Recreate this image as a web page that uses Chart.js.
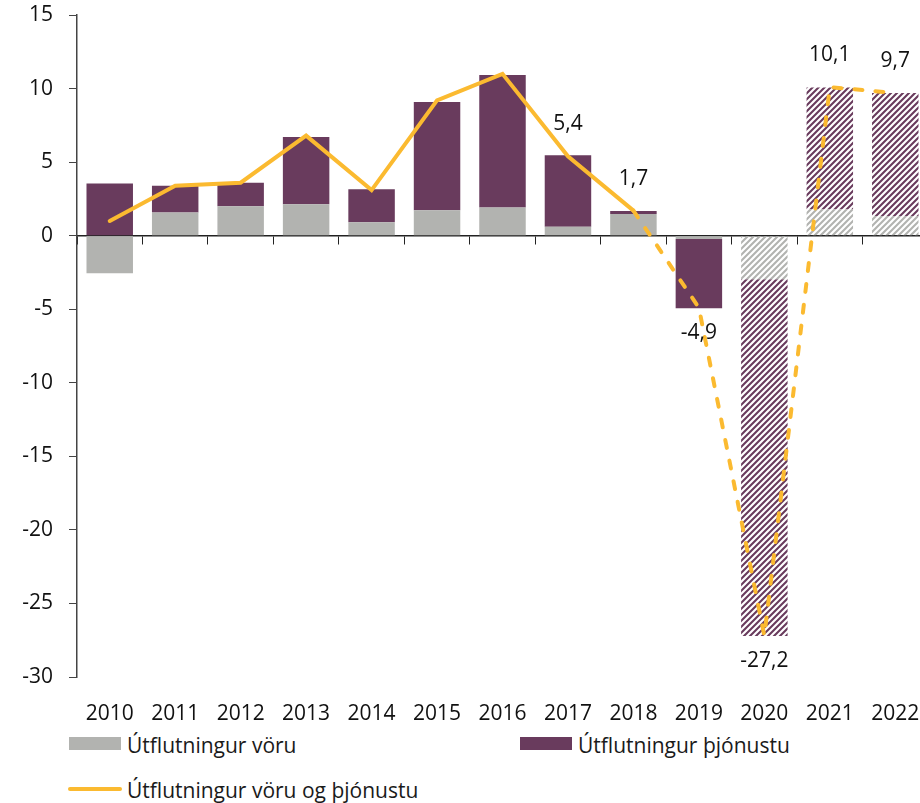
<!DOCTYPE html>
<html>
<head>
<meta charset="utf-8">
<script src="https://cdn.jsdelivr.net/npm/chart.js@4.4.1/dist/chart.umd.min.js"></script>
<style>
  html, body { margin: 0; padding: 0; background: #fff; width: 920px; height: 803px; overflow: hidden; }
  #wrap { position: absolute; left: 0; top: 0; width: 928px; height: 730px; }
  .lg { position: absolute; font-family: 'Open Sans', sans-serif; font-size: 21px; line-height: 24px; color: #1a1a1a; white-space: nowrap; }
  .sw { position: absolute; }
</style>
</head>
<body>
<div id="wrap"><canvas id="chart" width="928" height="730"></canvas></div>

<div class="sw" style="left:69px; top:737px; width:52px; height:13px; background:#B2B3B0;"></div>
<div class="lg" style="left:127px; top:733px;">Útflutningur vöru</div>
<div class="sw" style="left:520px; top:737px; width:52px; height:13px; background:#693B5D;"></div>
<div class="lg" style="left:578px; top:733px;">Útflutningur þjónustu</div>
<div class="sw" style="left:68px; top:787px; width:54px; height:4px; border-radius:2px; background:#FBBA30;"></div>
<div class="lg" style="left:127px; top:778px;">Útflutningur vöru og þjónustu</div>

<script>
// ── Data ───────────────────────────────────────
const years    = ['2010', '2011', '2012', '2013', '2014', '2015', '2016', '2017', '2018', '2019', '2020', '2021', '2022'];
const goods    = [-2.55, 1.58, 2.0, 2.14, 0.92, 1.73, 1.92, 0.6, 1.48, -0.22, -2.96, 1.8, 1.33];
const services = [3.55, 1.81, 1.59, 4.56, 2.24, 7.35, 9.0, 4.86, 0.19, -4.71, -24.26, 8.28, 8.37];
const total    = [1.0, 3.4, 3.6, 6.8, 3.1, 9.2, 11.0, 5.4, 1.7, -4.9, -27.2, 10.1, 9.7];

const FORECAST_FROM = 10;  // hatched bars from 2020
const DASH_FROM     = 8;   // dashed line from 2018
const LABEL_FROM    = 7;   // value labels from 2017

const GREY   = '#B2B3B0';
const PURPLE = '#693B5D';
const YELLOW = '#FBBA30';
const FONT   = "'Open Sans', sans-serif";

const ctx = document.getElementById('chart').getContext('2d');

function hatch(color) {
  const c = document.createElement('canvas');
  c.width = 6; c.height = 6;
  const g = c.getContext('2d');
  g.strokeStyle = color;
  g.lineWidth = 2.1;
  g.beginPath();
  g.moveTo(-1, 7); g.lineTo(7, -1);
  g.moveTo(-1, 1); g.lineTo(1, -1);
  g.moveTo(5, 7);  g.lineTo(7, 5);
  g.stroke();
  return ctx.createPattern(c, 'repeat');
}

const greyFill   = years.map((_, i) => i >= FORECAST_FROM ? hatch(GREY) : GREY);
const purpleFill = years.map((_, i) => i >= FORECAST_FROM ? hatch(PURPLE) : PURPLE);

// value labels next to the line points
const valueLabels = {
  id: 'valueLabels',
  afterDatasetsDraw(chart) {
    const meta = chart.getDatasetMeta(2);
    const c = chart.ctx;
    c.save();
    c.font = '21px ' + FONT;
    c.fillStyle = '#111';
    c.textAlign = 'center';
    c.textBaseline = 'middle';
    meta.data.forEach((pt, i) => {
      if (i < LABEL_FROM) return;
      const v = total[i];
      const txt = v.toFixed(1).replace('.', ',');
      c.fillText(txt, pt.x, v >= 0 ? pt.y - 32 : pt.y + 25);
    });
    c.restore();
  },
};

new Chart(ctx, {
  data: {
    labels: years,
    datasets: [
      { type: 'bar', label: 'Útflutningur vöru', data: goods, backgroundColor: greyFill, stack: 's', order: 1 },
      { type: 'bar', label: 'Útflutningur þjónustu', data: services, backgroundColor: purpleFill, stack: 's', order: 1 },
      {
        type: 'line',
        label: 'Útflutningur vöru og þjónustu',
        data: total,
        borderColor: YELLOW,
        borderWidth: 4,
        borderCapStyle: 'round',
        borderJoinStyle: 'miter',
        pointRadius: 0,
        tension: 0,
        order: 0,
        segment: { borderDash: s => s.p0DataIndex >= DASH_FROM ? [8, 13] : undefined },
      },
    ],
  },
  options: {
    responsive: false,
    animation: false,
    layout: { padding: { top: 15, right: 0, bottom: 0, left: 0 } },
    datasets: { bar: { barPercentage: 0.71, categoryPercentage: 1.0 } },
    plugins: { legend: { display: false }, tooltip: { enabled: false } },
    scales: {
      x: {
        stacked: true,
        offset: true,
        grid: { display: false },
        border: { display: false },
        ticks: { font: { family: FONT, size: 21 }, color: '#111', padding: 16, maxRotation: 0, autoSkip: false },
        afterFit: s => { s.height = 53; s.paddingLeft = 0; s.paddingRight = 0; },
      },
      x2: {
        type: 'category',
        position: { y: 0 },
        offset: true,
        grid: { offset: true, drawOnChartArea: false, drawTicks: true, tickLength: 8, color: '#222', lineWidth: 1 },
        border: { display: true, color: '#222', width: 1.5 },
        ticks: { display: false },
        afterFit: s => { s.height = 0; s.paddingLeft = 0; s.paddingRight = 0; },
      },
      y: {
        stacked: true,
        min: -30,
        max: 15,
        ticks: { stepSize: 5, font: { family: FONT, size: 21 }, color: '#111', padding: 16 },
        grid: { drawOnChartArea: false, drawTicks: true, tickLength: 8, color: '#444' },
        border: { display: true, color: '#444', width: 1.5 },
        afterFit: s => { s.width = 77; s.paddingTop = 0; s.paddingBottom = 0; },
      },
    },
  },
  plugins: [valueLabels],
});
</script>
</body>
</html>
